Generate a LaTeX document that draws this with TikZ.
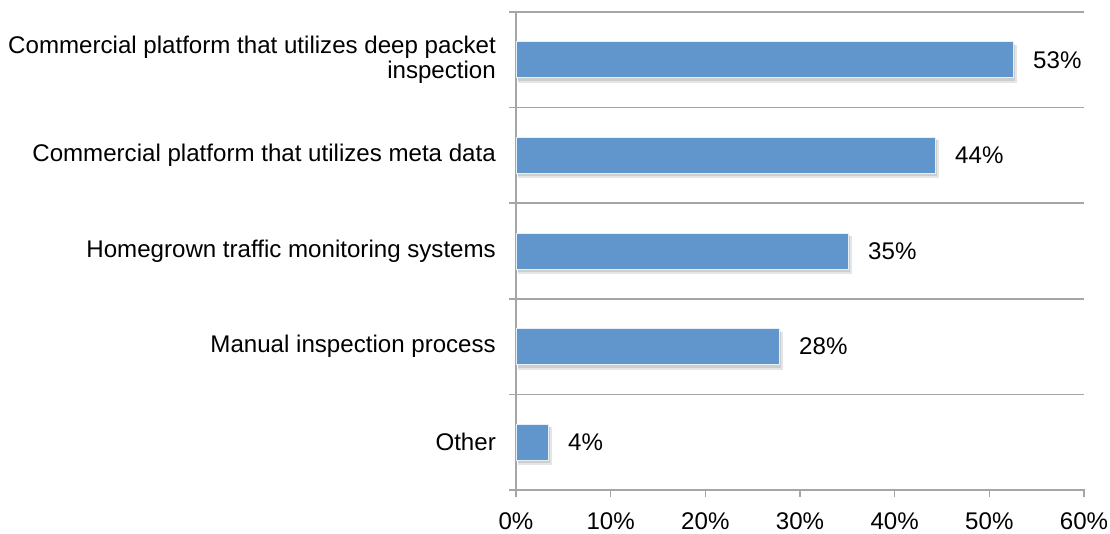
\documentclass[tikz,border=0pt]{standalone}
\usepackage{fontspec}
\setmainfont{Liberation Sans}
\definecolor{barblue}{RGB}{96,150,203}
\definecolor{gridgray}{RGB}{166,166,166}
\begin{document}
\begin{tikzpicture}[x=1pt,y=-1pt,
  lbl/.style={font=\fontsize{24.1}{25.8}\selectfont,inner sep=0pt,text=black},
  cat/.style={lbl,anchor=east,align=right},
  val/.style={lbl,anchor=west},
  tick/.style={lbl,anchor=center},
  grid/.style={draw=gridgray,line width=1.6pt},
  barstyle/.style={fill=barblue,draw=white!85!barblue,line width=0.8pt},
  shadowstyle/.style={fill=black,opacity=0.10,draw=none}]
\useasboundingbox (0,0) rectangle (1110,534);
\fill[white] (0,0) rectangle (1110,534);
% gridlines and left ticks
\foreach \i in {0,...,5} {
  \pgfmathsetmacro\yy{12+\i*95.6}
  \draw[grid] (509,\yy) -- (1084,\yy);
}
% vertical axis
\draw[grid] (516,12) -- (516,490);
% bottom ticks
\foreach \i in {0,...,6} {
  \pgfmathsetmacro\xx{516+\i*94.67}
  \draw[grid] (\xx,489) -- (\xx,497);
}
% bars
\foreach \ends/\yc in {1013/59.8,935/155.4,848/251.0,779/346.6,548/442.2} {
  \fill[shadowstyle] (518,\yc-15) rectangle (\ends+4,\yc+23);
  \fill[shadowstyle] (518,\yc-16) rectangle (\ends+2,\yc+21);
  \path[barstyle] (516,\yc-18) rectangle (\ends,\yc+18);
}
% category labels
\node[cat] (c1) at (496,59.8) {Commercial platform that utilizes deep packet\\inspection};
\node[cat] (c2) at (496,155.4) {Commercial platform that utilizes meta data};
\node[cat] (c3) at (496,251.0) {Homegrown traffic monitoring systems};
\node[cat] (c4) at (496,346.6) {Manual inspection process};
\node[cat] (c5) at (496,442.2) {Other};
% value labels
\node[val] (v1) at (1033,59.8) {53\%};
\node[val] (v2) at (955,155.4) {44\%};
\node[val] (v3) at (868,251.0) {35\%};
\node[val] (v4) at (799,346.6) {28\%};
\node[val] (v5) at (568,442.2) {4\%};
% axis tick labels
\foreach \i in {0,...,6} {
  \pgfmathsetmacro\xx{516+\i*94.67}
  \pgfmathtruncatemacro\pp{\i*10}
  \node[tick] (t\i) at (\xx,521.5) {\pp\%};
}
\end{tikzpicture}
\end{document}
